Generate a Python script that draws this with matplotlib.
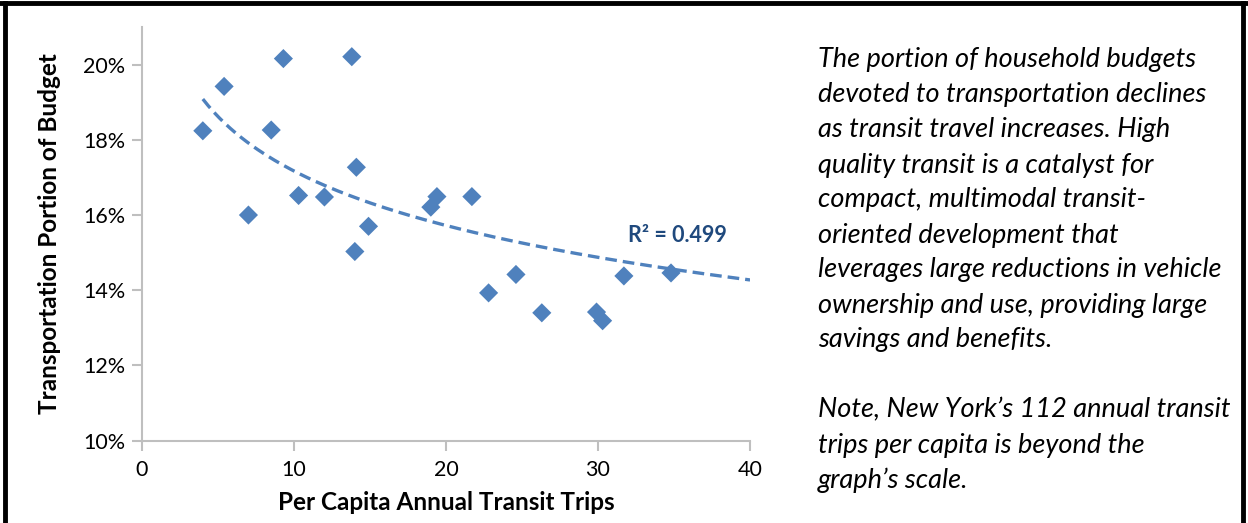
import numpy as np
import matplotlib
matplotlib.use("Agg")
import matplotlib.pyplot as plt
from matplotlib.lines import Line2D

plt.rcParams['font.family'] = ['Lato', 'DejaVu Sans']

# DATA
trips = [4.0, 5.4, 7.0, 9.3, 8.5, 10.3, 12.0, 13.8, 14.1, 14.9, 14.0,
         19.0, 19.4, 21.7, 22.8, 24.6, 26.3, 29.9, 30.3, 31.7, 34.8]
budget = [18.24, 19.42, 16.00, 20.16, 18.26, 16.52, 16.48, 20.21, 17.27, 15.70, 15.03,
          16.21, 16.49, 16.49, 13.93, 14.42, 13.40, 13.42, 13.19, 14.38, 14.46]
# log trendline as drawn in the reference: y = a + b*ln(x)
trend_a = 21.98
trend_b = -2.089
trend_range = [4.0, 40.0]
r2_label = "R² = 0.499"
x_ticks = [0, 10, 20, 30, 40]
y_ticks = [10, 12, 14, 16, 18, 20]

note_lines = [
    "The portion of household budgets",
    "devoted to transportation declines",
    "as transit travel increases. High",
    "quality transit is a catalyst for",
    "compact, multimodal transit-",
    "oriented development that",
    "leverages large reductions in vehicle",
    "ownership and use, providing large",
    "savings and benefits.",
    "",
    "Note, New York’s 112 annual transit",
    "trips per capita is beyond the",
    "graph’s scale.",
]

# STYLE
blue = '#4F81BD'
axis_grey = '#BFBFBF'

fig = plt.figure(figsize=(12.48, 5.23), dpi=100)
ax = fig.add_axes([0.1138, 0.1574, 0.4872, 0.7910])

xs = np.linspace(trend_range[0], trend_range[1], 200)
ax.plot(xs, trend_a + trend_b * np.log(xs), color=blue, lw=2.4,
        linestyle=(0, (3.5, 1.8)), zorder=2)

ax.scatter(trips, budget, marker='D', s=95, color=blue, edgecolors='none', zorder=3)

ax.text(32.0, 15.45, r2_label, color='#1F497D', fontsize=15.5, fontweight='bold',
        ha='left', va='center')

ax.set_xlim(0, 40)
ax.set_ylim(10, 21)
ax.set_xticks(x_ticks)
ax.set_yticks(y_ticks)
ax.set_yticklabels([f"{v}%" for v in y_ticks])
ax.tick_params(axis='both', colors=axis_grey, labelcolor='black', labelsize=15.5,
               length=7, width=1.5, direction='out')
ax.tick_params(axis='x', pad=7)
ax.tick_params(axis='y', pad=5)
for side in ['top', 'right']:
    ax.spines[side].set_visible(False)
for side in ['left', 'bottom']:
    ax.spines[side].set_color(axis_grey)
    ax.spines[side].set_linewidth(1.5)

ax.set_xlabel("Per Capita Annual Transit Trips", fontsize=17.5, fontweight='bold', labelpad=8)
ax.set_ylabel("Transportation Portion of Budget", fontsize=17.5, fontweight='bold', labelpad=16)

# right-hand note
y0 = 1 - 60 / 523
step = 35 / 523
for i, line in enumerate(note_lines):
    fig.text(818 / 1248, y0 - i * step, line, fontsize=19.5, style='italic',
             ha='left', va='center')

# outer frame
fig.add_artist(Line2D([0, 1], [1 - 3 / 523] * 2, color='black', lw=3.5))
fig.add_artist(Line2D([5 / 1248] * 2, [0, 1 - 3 / 523], color='black', lw=3.5))
fig.add_artist(Line2D([1243 / 1248] * 2, [0, 1 - 3 / 523], color='black', lw=3.5))

fig.savefig("out.png", dpi=100)
